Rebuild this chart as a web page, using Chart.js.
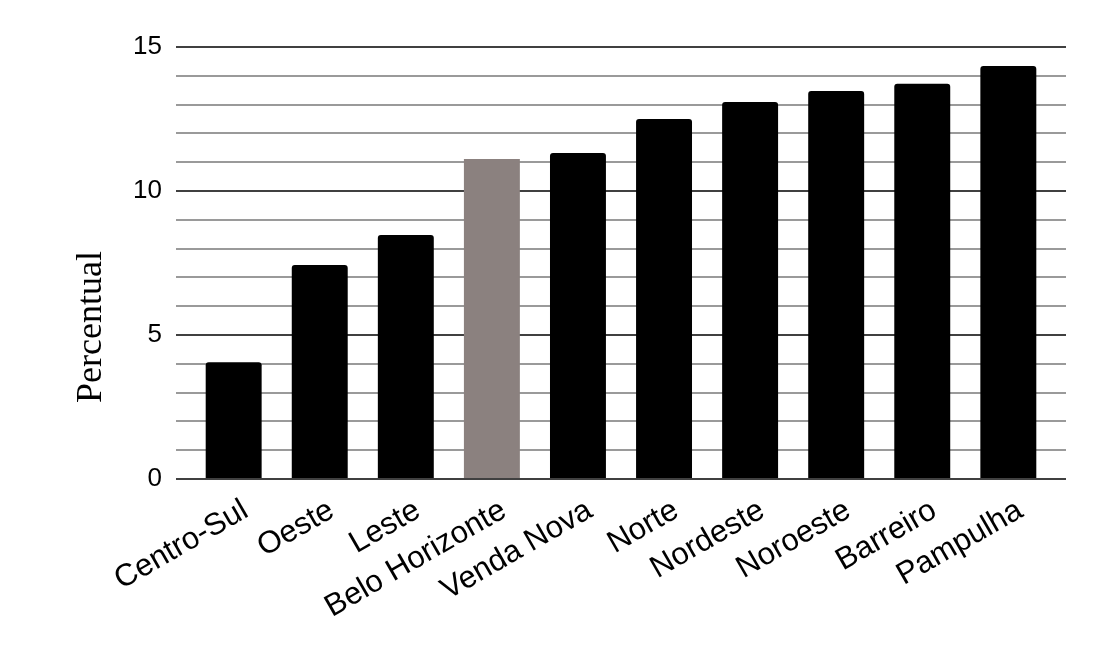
<!DOCTYPE html>
<html>
<head>
<meta charset="utf-8">
<script src="https://cdn.jsdelivr.net/npm/chart.js@4/dist/chart.umd.min.js"></script>
<style>
   html, body { margin: 0; padding: 0; background: #fff; }
   #wrap { width: 1099px; height: 646px; position: relative; }
</style>
</head>
<body>
<div id="wrap"><canvas id="chart"></canvas></div>
<script>
// Regions of Belo Horizonte (sorted ascending)
const regions = ['Centro-Sul', 'Oeste', 'Leste', 'Belo Horizonte', 'Venda Nova',
   'Norte', 'Nordeste', 'Noroeste', 'Barreiro', 'Pampulha'];
const percentValues = [4.05, 7.43, 8.47, 11.11, 11.32, 12.5, 13.09, 13.47, 13.72, 14.34];
const highlightRegion = 'Belo Horizonte';
const yTicks = [0, 5, 10, 15];
const yTitle = 'Percentual';

const barColors = regions.map(r => r === highlightRegion ? '#8b817f' : '#000000');
// bars sit on a linear x scale so the plot can keep the side gap Excel leaves
const points = regions.map((r, i) => ({ x: i, y: percentValues[i] }));

// y title is drawn a bit below centre, like the original
const yTitlePlugin = {
   id: 'yTitlePlugin',
   afterDraw: chart => {
      const c = chart.ctx;
      const area = chart.chartArea;
      c.save();
      c.translate(92, area.bottom - 152);
      c.rotate(-Math.PI / 2);
      c.font = "36px 'Liberation Serif', 'DejaVu Serif', serif";
      c.fillStyle = '#000';
      c.textAlign = 'center';
      c.textBaseline = 'middle';
      c.fillText(yTitle, 0, 0);
      c.restore();
   }
};

const ctx = document.getElementById('chart').getContext('2d');
new Chart(ctx, {
   type: 'bar',
   data: {
      datasets: [{
         data: points,
         backgroundColor: barColors,
         borderRadius: c => regions[c.dataIndex] === highlightRegion ? 0 : { topLeft: 3, topRight: 3 },
         borderSkipped: 'bottom',
         barPercentage: 0.65,
         categoryPercentage: 1
      }]
   },
   plugins: [yTitlePlugin],
   options: {
      responsive: true,
      maintainAspectRatio: false,
      animation: false,
      layout: { padding: { top: 47, right: 33, left: 0, bottom: 0 } },
      plugins: { legend: { display: false }, tooltip: { enabled: false } },
      scales: {
         x: {
            type: 'linear',
            offset: false,
            min: -0.67,
            max: regions.length - 1 + 0.67,
            afterBuildTicks: s => { s.ticks = regions.map((r, i) => ({ value: i })); },
            grid: { display: false, drawTicks: false },
            border: { display: false },
            ticks: {
               color: '#000',
               font: { family: "'Liberation Sans', Arial, sans-serif", size: 31 },
               minRotation: 30,
               maxRotation: 30,
               autoSkip: false,
               labelOffset: 12,
               padding: 13,
               callback: v => regions[v]
            },
            afterFit: s => { s.height = 167; }
         },
         y: {
            min: 0,
            max: 15,
            afterBuildTicks: s => {
               // one grid line per unit, labels only on yTicks
               const t = [];
               for (let v = 0; v <= 15; v++) t.push({ value: v });
               s.ticks = t;
            },
            grid: {
               drawTicks: false,
               lineWidth: 2,
               color: c => yTicks.includes(c.tick.value) ? '#404040' : '#9a9a9a'
            },
            border: { display: false },
            ticks: {
               color: '#000',
               font: { family: "'Liberation Sans', Arial, sans-serif", size: 26 },
               padding: 14,
               autoSkip: false,
               callback: v => yTicks.includes(v) ? v : ''
            },
            afterFit: s => { s.width = 176; }
         }
      }
   }
});
</script>
</body>
</html>
